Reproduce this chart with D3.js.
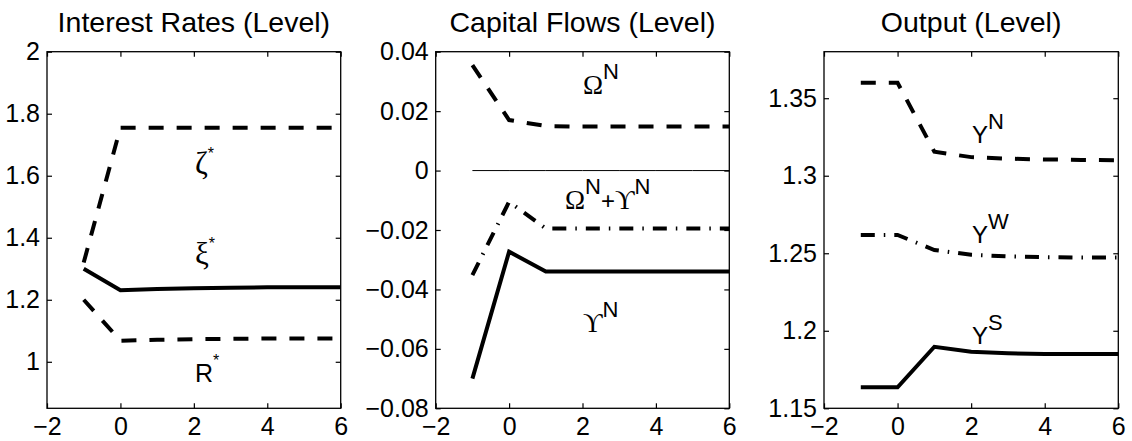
<!DOCTYPE html>
<html>
<head>
<meta charset="utf-8">
<script src="https://cdn.jsdelivr.net/npm/d3@7"></script>
<style>
  body { margin: 0; background: #fff; }
  svg { display: block; }
</style>
</head>
<body>
<div id="chart"></div>
<script>
// periods on the horizontal axis
const periods = [-1, 0, 1, 2, 3, 4, 5, 6];

// Interest Rates (Level)
const zetaStar = [1.32, 1.755, 1.755, 1.755, 1.755, 1.755, 1.755, 1.755];
const xiStar = [1.30, 1.231, 1.235, 1.237, 1.239, 1.24, 1.24, 1.24];
const rStar = [1.20, 1.068, 1.071, 1.073, 1.074, 1.075, 1.075, 1.075];

// Capital Flows (Level)
const omegaN = [0.0355, 0.017, 0.015, 0.0148, 0.0148, 0.0148, 0.0148, 0.0148];
const omegaPlusUpsilonN = [-0.0352, -0.0105, -0.0195, -0.0195, -0.0195, -0.0195, -0.0195, -0.0195];
const upsilonN = [-0.070, -0.0273, -0.034, -0.034, -0.034, -0.034, -0.034, -0.034];
const zeroLine = [0, 0, 0, 0, 0, 0, 0, 0];

// Output (Level)
const yN = [1.36, 1.36, 1.3155, 1.312, 1.311, 1.3105, 1.3102, 1.31];
const yW = [1.2618, 1.2618, 1.2521, 1.249, 1.248, 1.2475, 1.2472, 1.2472];
const yS = [1.1635, 1.1635, 1.1897, 1.1865, 1.1855, 1.185, 1.185, 1.185];

// tick labels
const xTicks = [-2, 0, 2, 4, 6];
const rateTicks = [1, 1.2, 1.4, 1.6, 1.8, 2];
const flowTicks = [-0.08, -0.06, -0.04, -0.02, 0, 0.02, 0.04];
const outputTicks = [1.15, 1.2, 1.25, 1.3, 1.35];

const width = 1132, height = 441;
const plotTop = 51.7, plotBottom = 408.3;

const svg = d3.select("#chart").append("svg")
    .attr("width", width)
    .attr("height", height);

const DASH = "15,13";
const DASHDOT = "14,9,1.5,9";
const fmtMinus = s => s.replace("-", "\u2212");

const panels = [
    {
        title: "Interest Rates (Level)", left: 47, right: 340.7,
        domain: [0.85, 2], ticks: rateTicks, fmt: d => fmtMinus(String(d)),
        series: [
            {values: zetaStar, dash: DASH, width: 4},
            {values: xiStar, dash: null, width: 4},
            {values: rStar, dash: DASH, width: 4}
        ],
        labels: [
            {x: 195, y: 174, parts: [["\u03B6", "serif", 31, 0], ["*", "sans", 16, -15]]},
            {x: 195, y: 264, parts: [["\u03BE", "serif", 31, 0], ["*", "sans", 16, -15]]},
            {x: 195, y: 382, parts: [["R", "sans", 25, 0], ["*", "sans", 16, -16]]}
        ]
    },
    {
        title: "Capital Flows (Level)", left: 435.7, right: 729.3,
        domain: [-0.08, 0.04], ticks: flowTicks, fmt: d => fmtMinus(String(d)),
        series: [
            {values: zeroLine, dash: null, width: 1},
            {values: omegaN, dash: DASH, width: 4},
            {values: omegaPlusUpsilonN, dash: DASHDOT, width: 4},
            {values: upsilonN, dash: null, width: 4}
        ],
        labels: [
            {x: 583, y: 94, parts: [["\u03A9", "serif", 27, 0], ["N", "sans", 22, -15]]},
            {x: 565, y: 209, parts: [["\u03A9", "serif", 27, 0], ["N", "sans", 22, -15], ["+", "sans", 24, 0], ["\u03D2", "serif", 27, 0], ["N", "sans", 22, -15]]},
            {x: 583, y: 332, parts: [["\u03D2", "serif", 27, 0], ["N", "sans", 22, -15]]}
        ]
    },
    {
        title: "Output (Level)", left: 824, right: 1118.3,
        domain: [1.15, 1.38], ticks: outputTicks, fmt: d => String(d),
        series: [
            {values: yN, dash: DASH, width: 4},
            {values: yW, dash: DASHDOT, width: 4},
            {values: yS, dash: null, width: 4}
        ],
        labels: [
            {x: 972, y: 143, parts: [["Y", "sans", 24, 0], ["N", "sans", 22, -14]]},
            {x: 972, y: 243, parts: [["Y", "sans", 24, 0], ["W", "sans", 22, -14]]},
            {x: 972, y: 344, parts: [["Y", "sans", 24, 0], ["S", "sans", 22, -14]]}
        ]
    }
];

const fontFor = f => f === "serif" ? "'Liberation Serif', 'DejaVu Serif', serif" : "'Liberation Sans', Arial, sans-serif";

panels.forEach(p => {
    const x = d3.scaleLinear().domain([-2, 6]).range([p.left, p.right]);
    const y = d3.scaleLinear().domain(p.domain).range([plotBottom, plotTop]);
    const g = svg.append("g");

    // title
    g.append("text")
        .attr("x", (p.left + p.right) / 2)
        .attr("y", 31.5)
        .attr("text-anchor", "middle")
        .style("font-family", fontFor("sans"))
        .style("font-size", "28.5px")
        .text(p.title);

    // lines
    const line = d3.line()
        .x((d, i) => x(periods[i]))
        .y(d => y(d));

    p.series.forEach(s => {
        g.append("path")
            .datum(s.values)
            .attr("d", line)
            .attr("fill", "none")
            .attr("stroke", "#000")
            .attr("stroke-width", s.width)
            .attr("stroke-linejoin", "miter")
            .attr("stroke-dasharray", s.dash);
    });

    // axes with inward ticks
    const styleAxis = sel => {
        sel.select(".domain").remove();
        sel.selectAll("line").attr("stroke", "#000").attr("stroke-width", 1.2);
        sel.selectAll("text")
            .style("font-family", fontFor("sans"))
            .style("font-size", "25px")
            .attr("fill", "#000");
    };

    g.append("g")
        .attr("transform", `translate(0,${plotBottom})`)
        .call(d3.axisBottom(x).tickValues(xTicks).tickSizeInner(-5).tickSizeOuter(0).tickPadding(9)
            .tickFormat(d => fmtMinus(String(d))))
        .call(styleAxis);

    g.append("g")
        .attr("transform", `translate(0,${plotTop})`)
        .call(d3.axisTop(x).tickValues(xTicks).tickSizeInner(-5).tickSizeOuter(0).tickFormat(""))
        .call(styleAxis);

    g.append("g")
        .attr("transform", `translate(${p.left},0)`)
        .call(d3.axisLeft(y).tickValues(p.ticks).tickSizeInner(-5).tickSizeOuter(0).tickPadding(7)
            .tickFormat(p.fmt))
        .call(styleAxis);

    g.append("g")
        .attr("transform", `translate(${p.right},0)`)
        .call(d3.axisRight(y).tickValues(p.ticks).tickSizeInner(-5).tickSizeOuter(0).tickFormat(""))
        .call(styleAxis);

    // box
    g.append("rect")
        .attr("x", p.left)
        .attr("y", plotTop)
        .attr("width", p.right - p.left)
        .attr("height", plotBottom - plotTop)
        .attr("fill", "none")
        .attr("stroke", "#000")
        .attr("stroke-width", 1.3);

    // series labels
    p.labels.forEach(l => {
        const t = g.append("text")
            .attr("x", l.x)
            .attr("y", l.y)
            .attr("fill", "#000");
        let shift = 0;
        l.parts.forEach(part => {
            const [txt, fam, size, dy] = part;
            const ts = t.append("tspan")
                .style("font-family", fontFor(fam))
                .style("font-size", size + "px")
                .text(txt);
            // raise superscripts, then come back to baseline
            ts.attr("dy", dy - shift);
            shift = dy;
        });
    });
});
</script>
</body>
</html>
